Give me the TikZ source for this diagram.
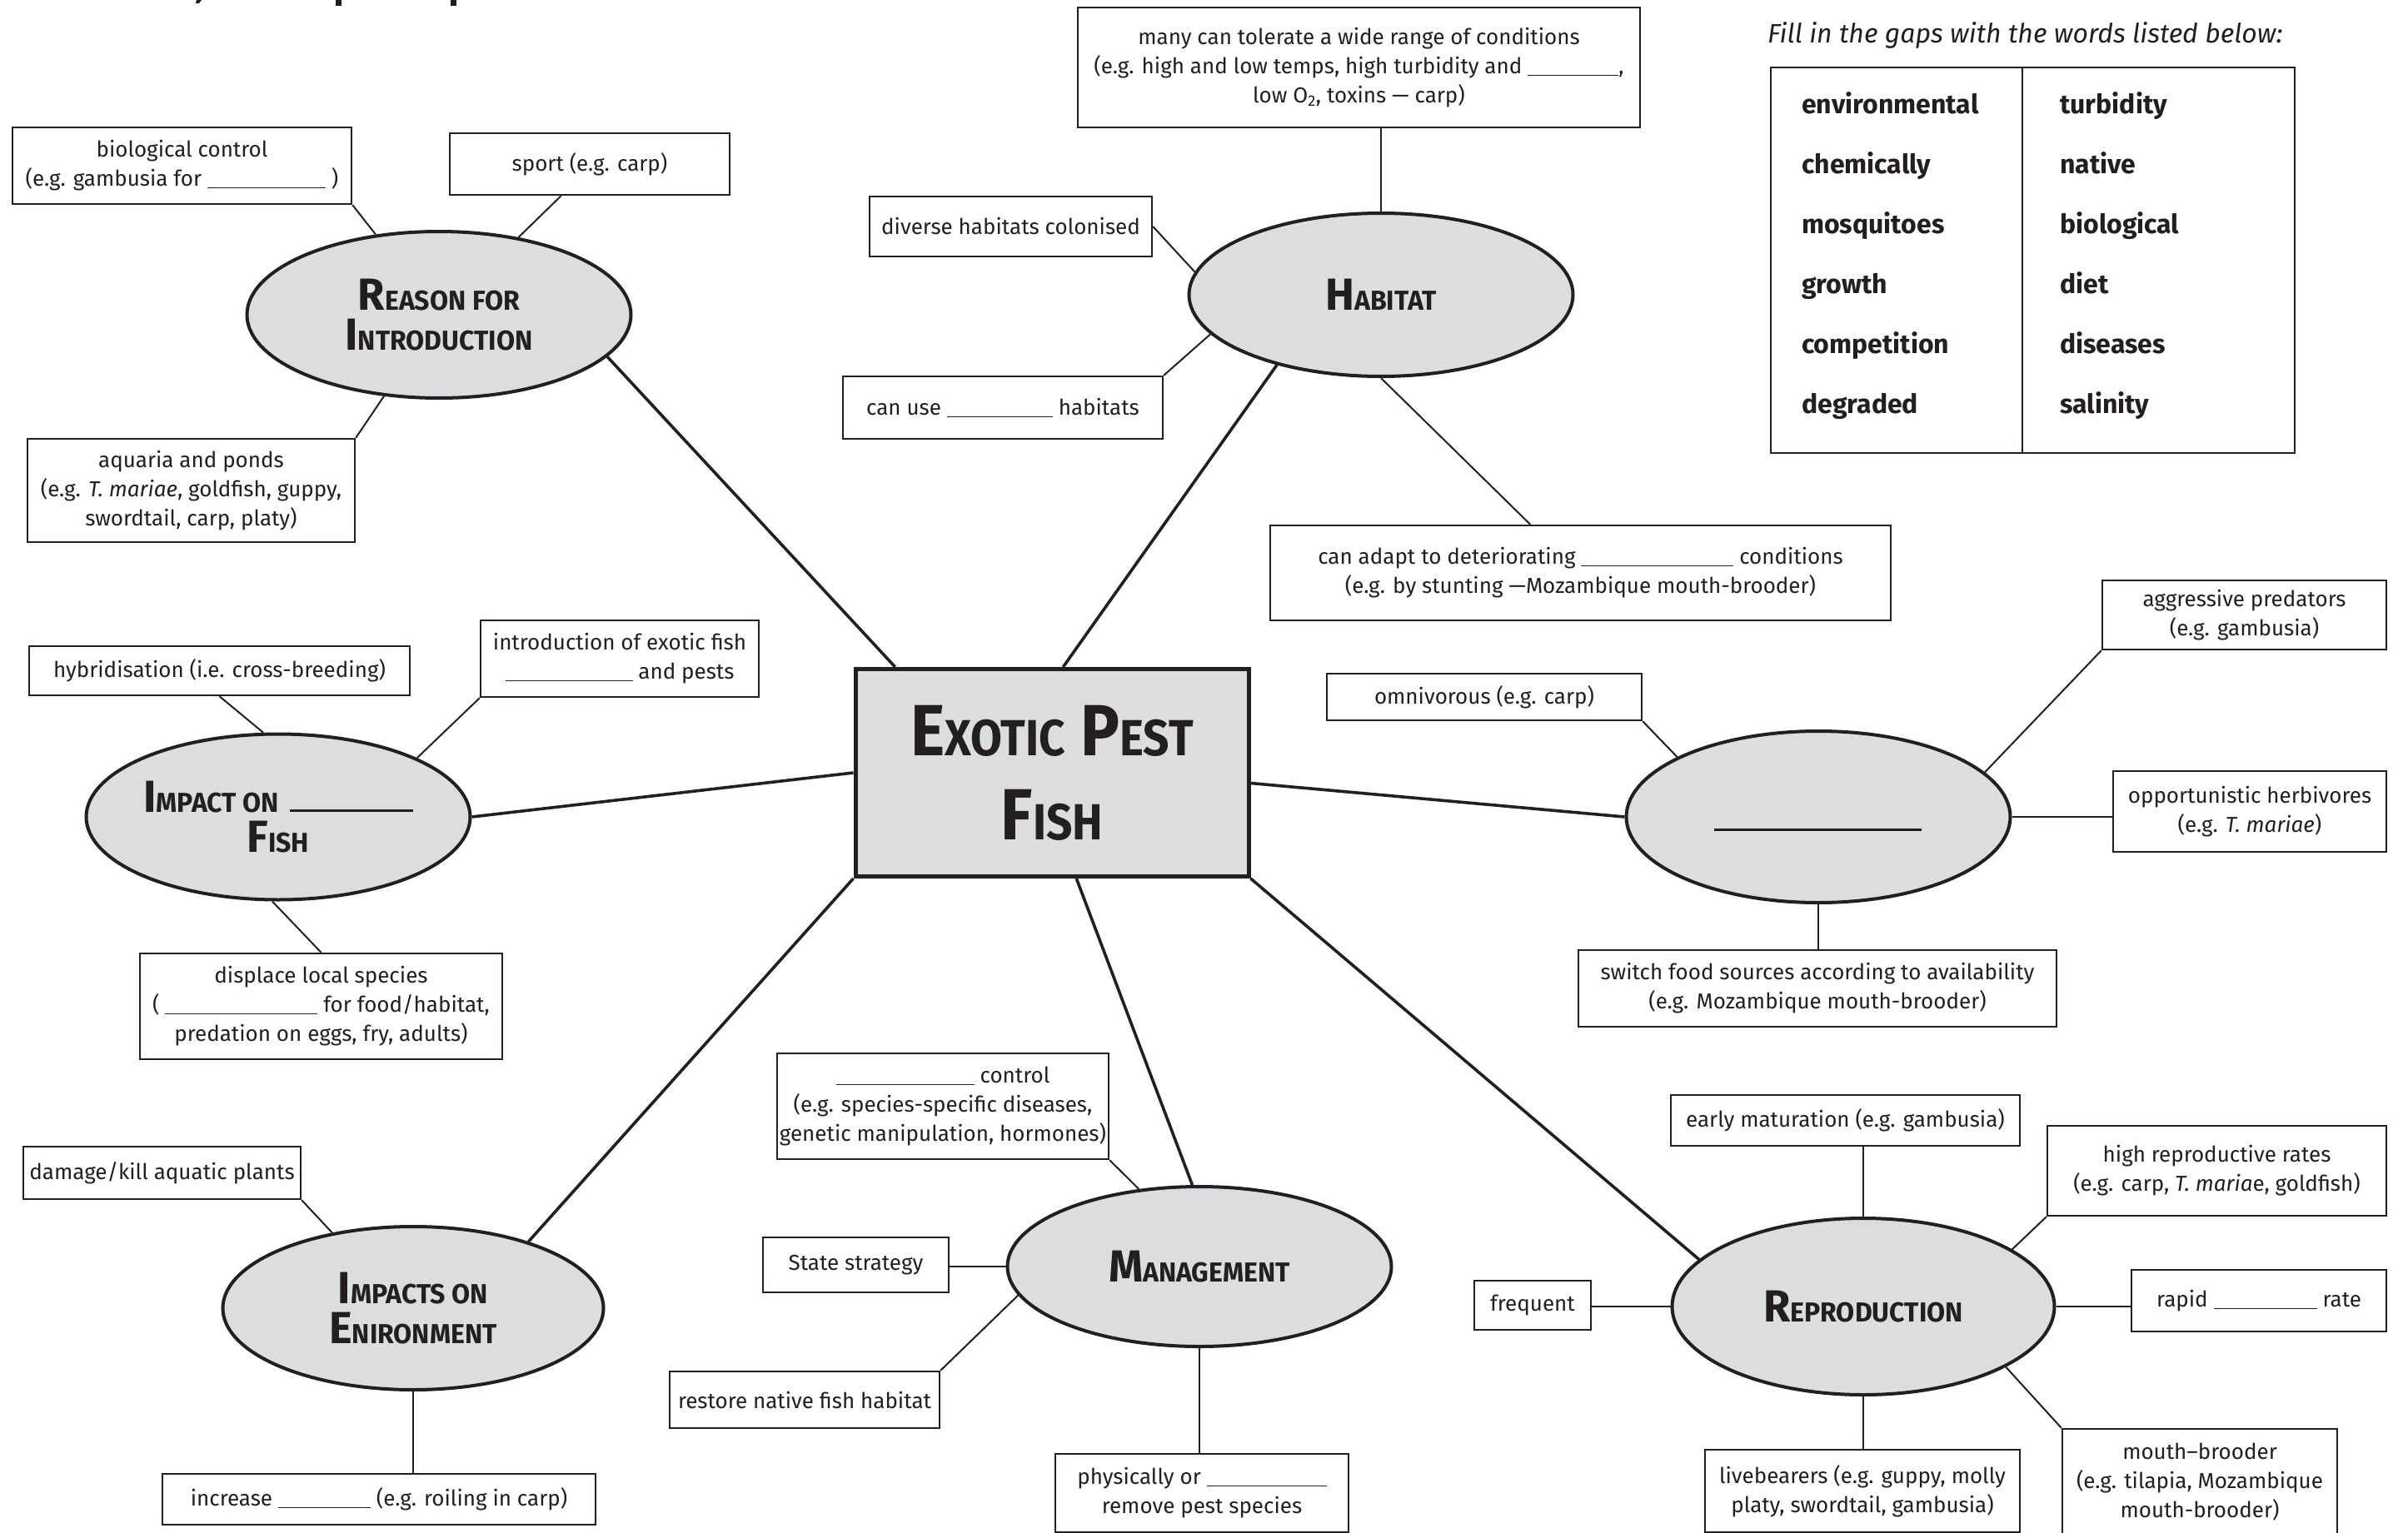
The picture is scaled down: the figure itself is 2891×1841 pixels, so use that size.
\documentclass[tikz,border=0pt]{standalone}
\usepackage{fontspec}
\setmainfont{Fira Sans}
\newfontfamily\headf{Fira Sans}[FakeStretch=0.97]
\newfontfamily\titlef{Fira Sans}[FakeStretch=0.9]
\usetikzlibrary{shapes.geometric,calc}
\definecolor{ink}{HTML}{231F20}
\definecolor{shade}{HTML}{DCDDDF}
\newcommand\gap[1]{\rule[-0.1em]{#1pt}{1.4pt}}
\newcommand\hsc[2]{{\fontsize{54}{48}\selectfont #1}{\fontsize{33}{48}\selectfont #2}}
\newcommand\hbig[2]{{\fontsize{87}{101}\selectfont #1}{\fontsize{61}{101}\selectfont #2}}
\begin{document}
\begin{tikzpicture}[x=1pt,y=-1pt,
  box/.style={draw=ink, line width=2.4pt, fill=white, inner sep=0pt, align=center,
    font=\fontsize{26}{35}\selectfont, text=ink},
  oval/.style={ellipse, draw=ink, line width=4pt, fill=shade, inner sep=0pt, align=center,
    font=\headf\bfseries\fontsize{54}{48}\selectfont, text=ink},
  link/.style={draw=ink, line width=2pt},
  mainlink/.style={draw=ink, line width=3.6pt},
  word/.style={anchor=base west, inner sep=0pt, font=\bfseries\fontsize{32}{36}\selectfont, text=ink}]
\fill[white] (0,0) rectangle (2891,1841);
\useasboundingbox (0,0) rectangle (2891,1841);

% ---- remnants of a cut-off title at the top edge
\fill[ink] (236,0) -- (242,0) -- (239,4) -- (235,4) -- cycle;
\fill[ink] (403,0) rectangle (410,7);
\fill[ink] (541,0) rectangle (548,7);

% ---- central node
\node[draw=ink, line width=5pt, fill=shade, minimum width=472pt, minimum height=249pt,
  inner sep=0pt, align=center, text=ink, font=\titlef\bfseries\fontsize{87}{101}\selectfont]
  (central) at (1263,928) {\hbig{E}{XOTIC} \hbig{P}{EST}\\\hbig{F}{ISH}};

% ---- main ellipses
\node[oval, minimum width=461pt, minimum height=200pt] (reason) at (527,378)
  {\hsc{R}{EASON FOR}\\\hsc{I}{NTRODUCTION}};
\node[oval, minimum width=461pt, minimum height=196pt] (habitat) at (1658,354)
  {\hsc{H}{ABITAT}};
\node[oval, minimum width=461pt, minimum height=199pt] (impact) at (334,981)
  {\hsc{I}{MPACT ON} \rule{148pt}{3pt}\\\hsc{F}{ISH}};
\node[oval, minimum width=461pt, minimum height=206pt] (diet) at (2183,981) {};
\node[oval, minimum width=457pt, minimum height=196pt] (env) at (496,1571)
  {\hsc{I}{MPACTS ON}\\\hsc{E}{NIRONMENT}};
\node[oval, minimum width=461pt, minimum height=192pt] (mgmt) at (1440,1521)
  {\hsc{M}{ANAGEMENT}};
\node[oval, minimum width=459pt, minimum height=212pt] (repro) at (2237,1569)
  {\hsc{R}{EPRODUCTION}};
\draw[ink, line width=3pt] ($(diet.center)+(-125,15)$) -- ++(249,0);

% ---- boxes: reason for introduction
\node[box, minimum width=407pt, minimum height=92pt] (bioctl) at (218.5,199)
  {biological control\\(e.g. gambusia for \gap{142} )};
\node[box, minimum width=336pt, minimum height=74pt] (sport) at (708,197)
  {sport (e.g. carp)};
\node[box, minimum width=393pt, minimum height=124pt] (aquaria) at (229.5,589)
  {aquaria and ponds\\(e.g. \textit{T. mariae}, goldfish, guppy,\\swordtail, carp, platy)};

% ---- habitat
\node[box, minimum width=675pt, minimum height=144pt] (tolerate) at (1631.5,81)
  {many can tolerate a wide range of conditions\\(e.g. high and low temps, high turbidity and \gap{109},\\low O\textsubscript{2}, toxins — carp)};
\node[box, minimum width=339pt, minimum height=72pt] (diverse) at (1213.5,272)
  {diverse habitats colonised};
\node[box, minimum width=384pt, minimum height=75pt] (canuse) at (1204,489.5)
  {can use \gap{127} habitats};
\node[box, minimum width=745pt, minimum height=114pt] (adapt) at (1897.5,688)
  {can adapt to deteriorating \gap{183} conditions\\(e.g. by stunting —Mozambique mouth-brooder)};

% ---- impact on fish
\node[box, minimum width=457pt, minimum height=59pt] (hybrid) at (263.5,805.5)
  {hybridisation (i.e. cross-breeding)};
\node[box, minimum width=334pt, minimum height=92pt] (intro) at (744,791)
  {introduction of exotic fish\\\gap{153} and pests};
\node[box, minimum width=435pt, minimum height=127pt] (displace) at (385.5,1208.5)
  {displace local species\\( \gap{183} for food/habitat,\\predation on eggs, fry, adults)};

% ---- diet
\node[box, minimum width=378pt, minimum height=56pt] (omni) at (1782,837)
  {omnivorous (e.g. carp)};
\node[box, minimum width=341pt, minimum height=83pt] (aggr) at (2694.5,738.5)
  {aggressive predators\\(e.g. gambusia)};
\node[box, minimum width=328pt, minimum height=97pt] (opport) at (2701,974.5)
  {opportunistic herbivores\\(e.g. \textit{T. mariae})};
\node[box, minimum width=574pt, minimum height=92pt] (switch) at (2182,1187)
  {switch food sources according to availability\\(e.g. Mozambique mouth-brooder)};

% ---- environment
\node[box, minimum width=333pt, minimum height=63pt] (damage) at (194.5,1408.5)
  {damage/kill aquatic plants};
\node[box, minimum width=520pt, minimum height=61pt] (increase) at (455,1800.5)
  {increase \gap{111} (e.g. roiling in carp)};

% ---- management
\node[box, minimum width=398pt, minimum height=127pt] (bioctltwo) at (1132,1328.5)
  {\gap{166} control\\(e.g. species-specific diseases,\\genetic manipulation, hormones)};
\node[box, minimum width=223pt, minimum height=66pt] (state) at (1027.5,1519)
  {State strategy};
\node[box, minimum width=324pt, minimum height=68pt] (restore) at (966,1681)
  {restore native fish habitat};
\node[box, minimum width=352pt, minimum height=94pt] (phys) at (1443,1793)
  {physically or \gap{144}\\remove pest species};

% ---- reproduction
\node[box, minimum width=419pt, minimum height=61pt] (early) at (2215.5,1345.5)
  {early maturation (e.g. gambusia)};
\node[box, minimum width=407pt, minimum height=108pt] (highrep) at (2661.5,1406)
  {high reproductive rates\\(e.g. carp, \textit{T. maria}e, goldfish)};
\node[box, minimum width=306pt, minimum height=74pt] (rapid) at (2712,1562)
  {rapid \gap{124} rate};
\node[box, minimum width=140pt, minimum height=59pt] (frequent) at (1840,1567.5)
  {frequent};
\node[box, minimum width=378pt, minimum height=99pt] (live) at (2236,1790.5)
  {livebearers (e.g. guppy, molly\\platy, swordtail, gambusia)};
\node[box, minimum width=330pt, minimum height=128pt] (mouth) at (2641,1780)
  {mouth–brooder\\(e.g. tilapia, Mozambique\\mouth-brooder)};

% ---- word list
\node[anchor=west, inner sep=0pt, text=ink, font=\itshape\fontsize{32}{36}\selectfont]
  (caption) at (2122,42) {Fill in the gaps with the words listed below:};
\draw[ink, line width=2.4pt] (2126,81) rectangle (2755,544);
\draw[ink, line width=2.4pt] (2428,81) -- (2428,544);
\node[word] (w1) at (2163,136) {environmental};
\node[word] (w2) at (2163,208) {chemically};
\node[word] (w3) at (2163,280) {mosquitoes};
\node[word] (w4) at (2163,352) {growth};
\node[word] (w5) at (2163,424) {competition};
\node[word] (w6) at (2163,496) {degraded};
\node[word] (w7) at (2473,136) {turbidity};
\node[word] (w8) at (2473,208) {native};
\node[word] (w9) at (2473,280) {biological};
\node[word] (w10) at (2473,352) {diet};
\node[word] (w11) at (2473,424) {diseases};
\node[word] (w12) at (2473,496) {salinity};

% ---- main connectors
\draw[mainlink] (reason.-14) -- (central.146);
\draw[mainlink] (habitat.214) -- (central.84);
\draw[mainlink] (impact.east) -- (central.west);
\draw[mainlink] (central.-3.8) -- (diet.west);
\draw[mainlink] (env.30) -- (central.south west);
\draw[mainlink] (central.-77.5) -- (mgmt.95.5);
\draw[mainlink] (central.south east) -- (repro.164);

% ---- sub connectors
\draw[link] (bioctl.south east) -- (reason);
\draw[link] (sport.228) -- (reason);
\draw[link] (aquaria.north east) -- (reason);
\draw[link] (habitat.north) -- (habitat.north |- tolerate.south);
\draw[link] (diverse.east) -- (habitat.173);
\draw[link] (canuse.north east) -- (habitat.193);
\draw[link] (habitat.south) -- (adapt.136);
\draw[link] (hybrid.south) -- (impact.100);
\draw[link] (intro.south west) -- (impact.23);
\draw[link] (displace.north) -- (impact.266);
\draw[link] (omni.south east) -- (diet.157);
\draw[link] (aggr.south west) -- (diet.15.5);
\draw[link] (diet.east) -- (diet.east -| opport.west);
\draw[link] (diet.south) -- (diet.south |- switch.north);
\draw[link] (damage.south east) -- (env.137);
\draw[link] (env.south) -- (env.south |- increase.north);
\draw[link] (bioctltwo.south east) -- (mgmt.128);
\draw[link] (mgmt.west) -- (mgmt.west -| state.east);
\draw[link] (restore.north east) -- (mgmt.189);
\draw[link] (mgmt.south) -- (mgmt.south |- phys.north);
\draw[link] (repro.north) -- (repro.north |- early.south);
\draw[link] (highrep.south west) -- (repro.21);
\draw[link] (repro.east) -- (repro.east -| rapid.west);
\draw[link] (repro.west) -- (repro.west -| frequent.east);
\draw[link] (repro.south) -- (repro.south |- live.north);
\draw[link] (mouth.north west) -- (repro.-23);
\end{tikzpicture}
\end{document}
